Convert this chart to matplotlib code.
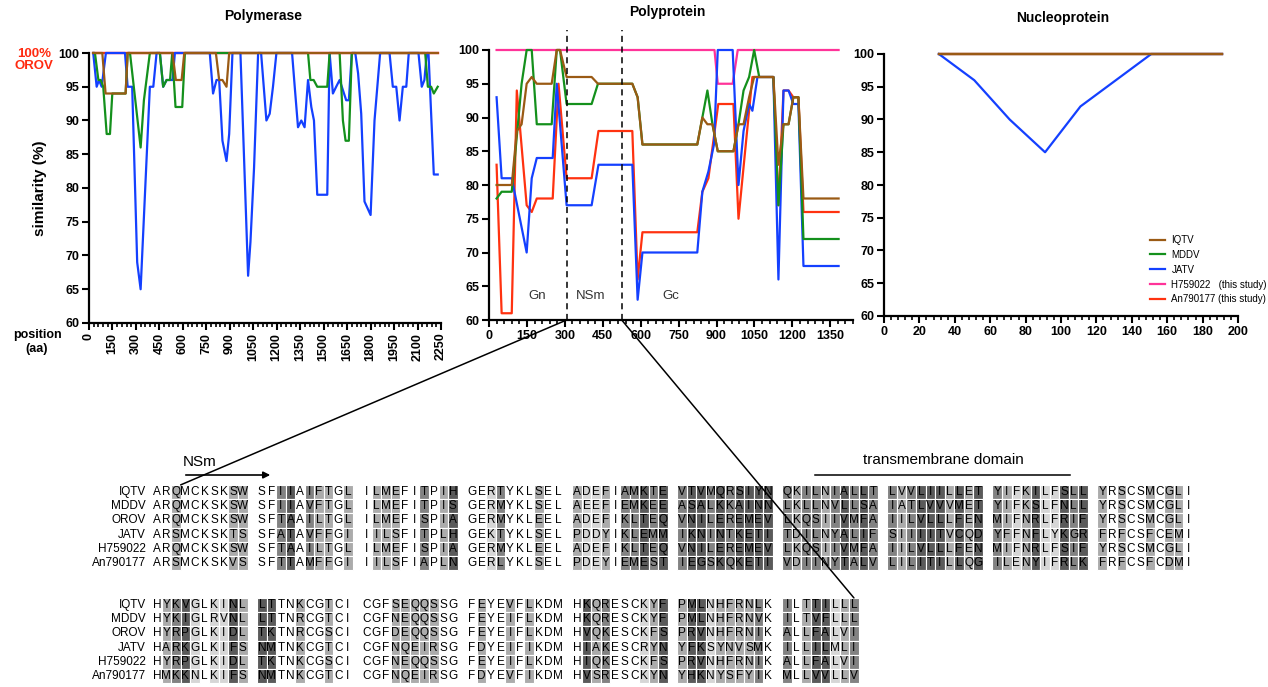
import numpy as np
import matplotlib.pyplot as plt
from matplotlib.patches import Rectangle, ConnectionPatch, FancyArrowPatch
from matplotlib.ticker import MultipleLocator

plt.rcParams['font.family'] = ['Liberation Sans', 'DejaVu Sans']

W, H = 1268, 687

#(0) Data
names  = ['IQTV', 'MDDV', 'JATV', 'H759022', 'An790177']
labels = ['IQTV', 'MDDV', 'JATV', 'H759022   (this study)', 'An790177 (this study)']
colors = {'IQTV': '#9a5a14', 'MDDV': '#14901c', 'JATV': '#1440ff',
          'H759022': '#ff3399', 'An790177': '#ff3210'}

# polymerase (aa position, similarity %)
pol_x = {
    'JATV': [27, 49, 64, 81, 108, 230, 247, 276, 308, 330, 389, 411, 432, 453, 474,
             496, 534, 549, 772, 793, 815, 832, 853, 879, 896, 917, 968, 1017, 1032, 1055,
             1081, 1100, 1134, 1155, 1176, 1198, 1298, 1315, 1336, 1357, 1378, 1400, 1421, 1438, 1459,
             1523, 1538, 1559, 1580, 1602, 1644, 1661, 1680, 1702, 1720, 1740, 1761, 1800, 1825, 1861,
             1921, 1942, 1964, 1985, 2006, 2028, 2044, 2106, 2127, 2144, 2159, 2170, 2204, 2229],
    'MDDV': [27, 38, 60, 75, 91, 113, 134, 149, 234, 247, 262, 330, 351, 389, 453,
             474, 496, 518, 532, 553, 596, 613, 1400, 1415, 1436, 1459, 1523, 1538, 1602, 1623,
             1640, 1661, 1680, 2149, 2166, 2187, 2204, 2229],
    'IQTV': [27, 85, 106, 234, 247, 534, 555, 592, 609, 811, 832, 853, 879, 896, 2229],
    'H759022': [27, 2229],
    'An790177': [27, 2229],
}
pol_y = {
    'JATV': [100, 95, 96, 95, 100, 100, 95, 95, 69, 65, 95, 95, 100, 100, 95,
             96, 96, 100, 100, 94, 96, 96, 87, 84, 88, 100, 100, 67, 72, 83,
             100, 100, 90, 91, 95, 100, 100, 95, 89, 90, 89, 96, 92, 90, 79,
             79, 100, 94, 95, 96, 93, 93, 100, 100, 97, 91, 78, 76, 90, 100,
             100, 95, 95, 90, 95, 95, 100, 100, 95, 96, 100, 100, 82, 82],
    'MDDV': [100, 100, 96, 96, 95, 88, 88, 94, 94, 100, 100, 86, 93, 100, 100,
             95, 96, 96, 100, 92, 92, 100, 100, 96, 96, 95, 95, 100, 100, 90,
             87, 87, 100, 100, 95, 95, 94, 95],
    'IQTV': [100, 100, 94, 94, 100, 100, 96, 96, 100, 100, 96, 96, 95, 100, 100],
    'H759022': [100, 100],
    'An790177': [100, 100],
}

# polyprotein
poly_x = {
    'H759022': [30, 892, 905, 964, 984, 1383],
    'An790177': [30, 50, 90, 110, 149, 169, 189, 252, 275, 307, 406, 433, 567, 588, 607,
                 824, 844, 868, 907, 967, 987, 1042, 1125, 1145, 1165, 1185, 1204, 1224, 1244, 1383],
    'JATV': [30, 50, 90, 149, 169, 189, 252, 268, 307, 406, 433, 567, 588, 607, 824,
             844, 868, 890, 905, 964, 987, 1007, 1029, 1042, 1062, 1125, 1145, 1165, 1185, 1204,
             1224, 1244, 1383],
    'MDDV': [30, 50, 90, 129, 149, 169, 189, 248, 268, 281, 307, 406, 431, 567, 588,
             607, 824, 844, 864, 884, 905, 967, 987, 1007, 1029, 1049, 1069, 1125, 1145, 1165,
             1185, 1204, 1224, 1244, 1383],
    'IQTV': [30, 90, 110, 129, 149, 169, 189, 248, 268, 281, 307, 406, 431, 567, 588,
             607, 824, 844, 864, 884, 905, 967, 987, 1007, 1029, 1049, 1125, 1145, 1165, 1185,
             1204, 1224, 1244, 1383],
}
poly_y = {
    'H759022': [100, 100, 95, 95, 100, 100],
    'An790177': [83, 61, 61, 94, 77, 76, 78, 78, 95, 81, 81, 88, 88, 66, 73,
                 73, 79, 81, 92, 92, 75, 96, 96, 77, 94, 94, 93, 93, 76, 76],
    'JATV': [93, 81, 81, 70, 81, 84, 84, 95, 77, 77, 83, 83, 63, 70, 70,
             79, 82, 86, 100, 100, 80, 88, 92, 91, 96, 96, 66, 94, 94, 92,
             92, 68, 68],
    'MDDV': [78, 79, 79, 95, 100, 100, 89, 89, 100, 100, 92, 92, 95, 95, 93,
             86, 86, 90, 94, 89, 85, 85, 89, 94, 96, 100, 96, 96, 77, 89,
             89, 93, 93, 72, 72],
    'IQTV': [80, 80, 88, 89, 95, 96, 95, 95, 100, 100, 96, 96, 95, 95, 93,
             86, 86, 90, 89, 89, 85, 85, 89, 89, 93, 96, 96, 83, 89, 89,
             93, 93, 78, 78],
}
domain_bounds = [307, 525]
domain_names  = ['Gn', 'NSm', 'Gc']
domain_text_x = [190, 404, 720]

# nucleoprotein
nuc_x = [31, 51, 71, 91, 111, 131, 151, 171, 191]
nuc_y = {
    'H759022': [100] * 9,
    'An790177': [100] * 9,
    'JATV': [100, 96, 90, 85, 92, 96, 100, 100, 100],
    'MDDV': [100] * 9,
    'IQTV': [100] * 9,
}

# alignment
aln_names = ['IQTV', 'MDDV', 'OROV', 'JATV', 'H759022', 'An790177']
aln_block1 = [
    'ARQMCKSKSW SFIIAIFTGL ILMEFITPIH GERTYKLSEL ADEFIAMKTE VTVMQRSIYN QKILNIALLT LVVLIILLET YIFKILFSLL YRSCSMCGLI',
    'ARQMCKSKSW SFIIAVFTGL ILMEFITPIS GERMYKLSEL AEEFIEMKEE ASALKKAINN LKLLNVLLSA IATLVVVMET YIFKSLFNLL YRSCSMCGLI',
    'ARQMCKSKSW SFTAAILTGL ILMEFISPIA GERMYKLEEL ADEFIKLTEQ VNILEREMEV LKQSIIVMFA IILVLLLFEN MIFNRLFRIF YRSCSMCGLI',
    'ARSMCKSKTS SFATAVFFGI IILSFITPLH GEKTYKLSEL PDDYIKLEMM IKNINTKETI TDILNYALIF SIIIITVCQD YFFNFLYKGR FRFCSFCEMI',
    'ARQMCKSKSW SFTAAILTGL ILMEFISPIA GERMYKLEEL ADEFIKLTEQ VNILEREMEV LKQSIIVMFA IILVLLLFEN MIFNRLFSIF YRSCSMCGLI',
    'ARSMCKSKVS SFTTAMFFGI IILSFIAPLN GERLYKLSEL PDEYIEMEST IEGSKQKETI VDIINYTALV LILITILLQG ILENYIFRLK FRFCSFCDMI',
]
aln_block2 = [
    'HYKVGLKINL LTTNKCGTCI CGFSEQQSSG FEYEVFLKDM HKQRESCKYF PMLNHFRNLK ILTTILLL',
    'HYKIGLRVNL LTTNRCGTCI CGFNEQQSSG FEYEIFLKDM HKQRESCKYF PMLNHFRNVK ILTVFLLL',
    'HYRPGLKIDL TKTNRCGSCI CGFDEQQSSG FEYEIFLKDM HVQKESCKFS PRVNHFRNIK ALLFALVI',
    'HARKGLKIFS NMTNKCGTCI CGFNQEIRSG FDYEIFIKDM HIAKESCRYN YFKSYNVSMK ILLILMLI',
    'HYRPGLKIDL TKTNKCGSCI CGFNEQQSSG FEYEIFLKDM HIQKESCKFS PRVNHFRNIK ALLFALVI',
    'HMKKNLKIFS NMTNKCGTCI CGFNQEIRSG FDYEVFIKDM HVSRESCKYN YHKNYSFYIK MLLVVLLV',
]
shade_by_changes = {1: '#d6d6d6', 2: '#ababab', 3: '#828282', 4: '#5a5a5a', 5: '#5a5a5a'}


def fig_rect(l, t, r, b):
    return [l / W, 1 - b / H, (r - l) / W, (b - t) / H]


def style_axis(ax):
    for s in ['top', 'right']:
        ax.spines[s].set_visible(False)
    for s in ['left', 'bottom']:
        ax.spines[s].set_linewidth(1.6)
    ax.tick_params(which='major', length=5, width=1.5, labelsize=9, pad=2)
    ax.tick_params(which='minor', length=3, width=1.2)
    for t in ax.get_xticklabels() + ax.get_yticklabels():
        t.set_fontweight('bold')
    ax.set_ylim(60, 100)
    ax.yaxis.set_major_locator(MultipleLocator(5))


#(1) Figure
fig = plt.figure(figsize=(W / 100, H / 100), dpi=100)

ax1 = fig.add_axes(fig_rect(89, 53, 441, 323))
ax2 = fig.add_axes(fig_rect(489, 50, 853, 320))
ax3 = fig.add_axes(fig_rect(884, 54, 1238, 316))

order = ['H759022', 'An790177', 'JATV', 'MDDV', 'IQTV']
for k, n in enumerate(order):
    ax1.plot(pol_x[n], pol_y[n], color=colors[n], lw=1.6, clip_on=False, zorder=2 + k)
    ax2.plot(poly_x[n], poly_y[n], color=colors[n], lw=1.6, clip_on=False, zorder=2 + k)
    ax3.plot(nuc_x, nuc_y[n], color=colors[n], lw=1.6, clip_on=False, zorder=2 + k)

ax1.set_xlim(0, 2250)
ax1.xaxis.set_major_locator(MultipleLocator(150))
ax1.xaxis.set_minor_locator(MultipleLocator(30))
ax1.tick_params(axis='x', labelrotation=90)
ax1.set_ylabel('similarity (%)', fontsize=11, fontweight='bold', labelpad=8)

ax2.set_xlim(0, 1440)
ax2.xaxis.set_major_locator(MultipleLocator(150))
ax2.xaxis.set_minor_locator(MultipleLocator(30))
ax2.vlines(domain_bounds, 60, 103, colors='black', linestyles=(0, (4, 3)), lw=1.1, clip_on=False, zorder=10)
for nm, xp in zip(domain_names, domain_text_x):
    ax2.text(xp, 63.6, nm, ha='center', va='center', fontsize=9.5, color='#333333')

ax3.set_xlim(0, 200)
ax3.xaxis.set_major_locator(MultipleLocator(20))
ax3.xaxis.set_minor_locator(MultipleLocator(4))

for ax in (ax1, ax2, ax3):
    style_axis(ax)

handles = {n: ax3.lines[k] for k, n in enumerate(order)}
ax3.legend([handles[n] for n in names], labels, loc='upper left',
           bbox_to_anchor=(1150 / W, 1 - 235 / H), bbox_transform=fig.transFigure,
           frameon=False, fontsize=7, handlelength=1.5, labelspacing=0.5,
           handletextpad=0.7, borderaxespad=0, borderpad=0)

fig.text(263 / W, 1 - 16 / H, 'Polymerase', ha='center', va='center', fontsize=10, fontweight='bold')
fig.text(667 / W, 1 - 12 / H, 'Polyprotein', ha='center', va='center', fontsize=10, fontweight='bold')
fig.text(1063 / W, 1 - 18 / H, 'Nucleoprotein', ha='center', va='center', fontsize=10, fontweight='bold')
fig.text(34 / W, 1 - 60 / H, '100%\nOROV', ha='center', va='center', fontsize=9.5,
         fontweight='bold', color='#ff2a10', linespacing=1.05)
fig.text(37 / W, 1 - 342 / H, 'position\n(aa)', ha='center', va='center', fontsize=9,
         fontweight='bold', linespacing=1.15)

#(2) Alignment panel, in pixel coordinates
axa = fig.add_axes([0, 0, 1, 1], zorder=-1)
axa.set_xlim(0, W)
axa.set_ylim(H, 0)
axa.axis('off')

x0, cw, rh = 152, 9.55, 14.2
block_y = [492, 605]
for by, block in zip(block_y, [aln_block1, aln_block2]):
    for r, nm in enumerate(aln_names):
        axa.text(146, by + r * rh, nm, ha='right', va='center', fontsize=8.5)
    for c in range(len(block[0])):
        col = [row[c] for row in block]
        if col[0] == ' ':
            continue
        changes = len(col) - max(col.count(a) for a in set(col))
        for r, a in enumerate(col):
            yc = by + r * rh
            if changes > 0:
                axa.add_patch(Rectangle((x0 + c * cw, yc - rh / 2), cw, rh,
                                        facecolor=shade_by_changes[changes],
                                        edgecolor='white', lw=0.8))
            axa.text(x0 + (c + 0.5) * cw, yc, a, ha='center', va='center', fontsize=8.5)

axa.text(183, 462, 'NSm', ha='left', va='center', fontsize=11)
axa.add_patch(FancyArrowPatch((183, 475), (273, 475), arrowstyle='-|>',
                              mutation_scale=10, lw=1.2, color='black'))
axa.text(943, 460, 'transmembrane domain', ha='center', va='center', fontsize=11)
axa.plot([815, 1070], [475, 475], color='black', lw=1.1)

# zoom lines from polyprotein axis to the alignment
ends = [(x0 + 3 * cw, block_y[0] - rh / 2),
        (x0 + (len(aln_block2[0]) - 0.5) * cw, block_y[1] - rh / 2)]
for b, e in zip(domain_bounds, ends):
    con = ConnectionPatch(xyA=(b, 60), coordsA=ax2.transData, xyB=e, coordsB=axa.transData,
                          color='black', lw=1.1)
    fig.add_artist(con)

fig.savefig('out.png', dpi=100)
